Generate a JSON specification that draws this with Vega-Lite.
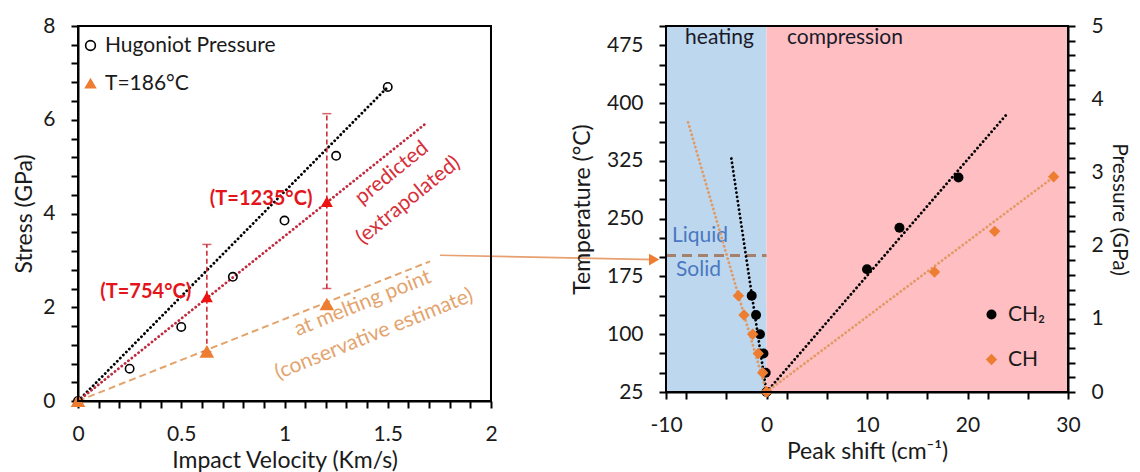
{
  "$schema": "https://vega.github.io/schema/vega-lite/v6.json",
  "padding": {"left": 12, "top": 14, "right": 0, "bottom": 0},
  "background": "white",
  "config": {
    "font": "Lato",
    "view": {"stroke": "black", "strokeWidth": 2},
    "axis": {
      "domainColor": "black", "domainWidth": 2, "tickColor": "black", "tickWidth": 2, "tickSize": 7, "ticks": true,
      "labelPadding": 15, "labelFontSize": 21, "labelColor": "#1a1a1a", "labelFont": "Lato",
      "titleFontSize": 23, "titleFontWeight": "normal", "titleColor": "#1a1a1a", "titleFont": "Lato",
      "grid": false, "labelFlush": false, "zindex": 2
    },
    "legend": {"labelFont": "Lato", "labelColor": "#1a1a1a", "labelLimit": 400}
  },
  "bounds": "flush",
  "spacing": 175,
  "resolve": {"scale": {"color": "independent", "shape": "independent", "fill": "independent", "stroke": "independent", "size": "independent"}},
  "hconcat": [
    {
      "width": 413,
      "height": 375,
      "resolve": {"axis": {"x": "independent", "y": "independent"}},
      "layer": [
        {
          "data": {"values": [{"x": 0, "y": 0, "x2": 1.5, "y2": 6.7}]},
          "mark": {"type": "rule", "color": "black", "strokeWidth": 2.8, "strokeDash": [0.1, 4.2], "strokeCap": "round"},
          "encoding": {
            "x": {"field": "x", "type": "quantitative", "scale": {"domain": [0, 2], "nice": false},
                  "axis": {"title": "Impact Velocity (Km/s)", "orient": "bottom", "values": [0, 0.5, 1, 1.5, 2], "format": "~g",
                           "ticks": true, "tickSize": 7, "tickWidth": 2, "tickColor": "black", "domainColor": "black", "domainWidth": 2,
                           "labelPadding": 15, "titlePadding": 5}},
            "y": {"field": "y", "type": "quantitative", "scale": {"domain": [0, 8], "nice": false},
                  "axis": {"title": "Stress (GPa)", "orient": "left", "values": [0, 2, 4, 6, 8], "format": "~g",
                           "ticks": true, "tickSize": 7, "tickWidth": 2, "tickColor": "black", "domainColor": "black", "domainWidth": 2,
                           "labelPadding": 16, "titlePadding": 6}},
            "x2": {"field": "x2"},
            "y2": {"field": "y2"}
          }
        },
        {
          "data": {"values": [{"x": 0, "y": 0, "x2": 1.69, "y2": 5.94}]},
          "mark": {"type": "rule", "color": "#c02a3c", "strokeWidth": 2.8, "strokeDash": [0.1, 4.2], "strokeCap": "round"},
          "encoding": {
            "x": {"field": "x", "type": "quantitative",
                  "axis": {"title": null, "orient": "bottom", "labels": false, "domain": false, "ticks": true, "tickSize": 7, "tickWidth": 2, "tickColor": "black",
                           "values": [0.1,0.2,0.3,0.4,0.6,0.7,0.8,0.9,1.1,1.2,1.3,1.4,1.6,1.7,1.8,1.9]}},
            "y": {"field": "y", "type": "quantitative",
                  "axis": {"title": null, "orient": "left", "labels": false, "domain": false, "ticks": true, "tickSize": 7, "tickWidth": 2, "tickColor": "black",
                           "values": [0.4,0.8,1.2,1.6,2.4,2.8,3.2,3.6,4.4,4.8,5.2,5.6,6.4,6.8,7.2,7.6]}},
            "x2": {"field": "x2"}, "y2": {"field": "y2"}
          }
        },
        {
          "data": {"values": [{"x": 0, "y": 0, "x2": 1.705, "y2": 2.98}]},
          "mark": {"type": "rule", "color": "#e3a46e", "strokeWidth": 2, "strokeDash": [7, 4]},
          "encoding": {
            "x": {"field": "x", "type": "quantitative", "axis": null}, "y": {"field": "y", "type": "quantitative", "axis": null},
            "x2": {"field": "x2"}, "y2": {"field": "y2"}
          }
        },
        {
          "data": {"values": [{"x": 1.753, "y": 3.11, "x2": 2.79, "y2": 3.017}]},
          "mark": {"type": "rule", "color": "#e8a070", "strokeWidth": 1.6},
          "encoding": {
            "x": {"field": "x", "type": "quantitative", "axis": null}, "y": {"field": "y", "type": "quantitative", "axis": null},
            "x2": {"field": "x2"}, "y2": {"field": "y2"}
          }
        },
        {
          "data": {"values": [{"x": 2.79, "y": 3.017}]},
          "mark": {"type": "point", "shape": "triangle-right", "filled": true, "color": "#ed7d31", "size": 140, "opacity": 1},
          "encoding": {
            "x": {"field": "x", "type": "quantitative", "axis": null}, "y": {"field": "y", "type": "quantitative", "axis": null}
          }
        },
        {
          "data": {"values": [{"x": 0.624, "lo": 1.05, "hi": 3.34}, {"x": 1.205, "lo": 2.40, "hi": 6.13}]},
          "layer": [
            {
              "mark": {"type": "rule", "color": "#c8202c", "strokeWidth": 1.5, "strokeDash": [5, 3]},
              "encoding": {"x": {"field": "x", "type": "quantitative", "axis": null}, "y": {"field": "lo", "type": "quantitative", "axis": null}, "y2": {"field": "hi"}}
            },
            {
              "mark": {"type": "tick", "orient": "horizontal", "color": "#c8202c", "size": 9, "thickness": 1.5},
              "encoding": {"x": {"field": "x", "type": "quantitative", "axis": null}, "y": {"field": "hi", "type": "quantitative", "axis": null}}
            },
            {
              "mark": {"type": "tick", "orient": "horizontal", "color": "#c8202c", "size": 9, "thickness": 1.5},
              "encoding": {"x": {"field": "x", "type": "quantitative", "axis": null}, "y": {"field": "lo", "type": "quantitative", "axis": null}}
            }
          ]
        },
        {
          "data": {"values": [
            {"v": 0, "s": 0, "series": "Hugoniot Pressure"},
            {"v": 0.25, "s": 0.69, "series": "Hugoniot Pressure"},
            {"v": 0.5, "s": 1.58, "series": "Hugoniot Pressure"},
            {"v": 0.75, "s": 2.65, "series": "Hugoniot Pressure"},
            {"v": 1.0, "s": 3.85, "series": "Hugoniot Pressure"},
            {"v": 1.25, "s": 5.23, "series": "Hugoniot Pressure"},
            {"v": 1.5, "s": 6.70, "series": "Hugoniot Pressure"}
          ]},
          "mark": {"type": "point", "filled": true, "strokeWidth": 1.6, "opacity": 1, "size": 70},
          "encoding": {
            "x": {"field": "v", "type": "quantitative", "axis": null},
            "y": {"field": "s", "type": "quantitative", "axis": null},
            "shape": {"field": "series", "type": "nominal", "scale": {"domain": ["Hugoniot Pressure", "T=186°C"], "range": ["circle", "triangle-up"]}, "legend": {"title": null, "orient": "top-left", "offset": 0, "padding": 9, "labelFontSize": 21, "symbolSize": 95, "rowPadding": 16, "labelOffset": 4, "symbolOffset": -7, "symbolStrokeWidth": 1.6, "labelLimit": 400}},
            "fill": {"field": "series", "type": "nominal", "scale": {"domain": ["Hugoniot Pressure", "T=186°C"], "range": ["transparent", "#ed7d31"]}, "legend": {"title": null, "orient": "top-left", "offset": 0, "padding": 9, "labelFontSize": 21, "symbolSize": 95, "rowPadding": 16, "labelOffset": 4, "symbolOffset": -7, "symbolStrokeWidth": 1.6, "labelLimit": 400}},
            "stroke": {"field": "series", "type": "nominal", "scale": {"domain": ["Hugoniot Pressure", "T=186°C"], "range": ["black", "#ed7d31"]}, "legend": {"title": null, "orient": "top-left", "offset": 0, "padding": 9, "labelFontSize": 21, "symbolSize": 95, "rowPadding": 16, "labelOffset": 4, "symbolOffset": -7, "symbolStrokeWidth": 1.6, "labelLimit": 400}}
          }
        },
        {
          "data": {"values": [
            {"v": 0, "s": 0, "series": "T=186°C"},
            {"v": 0.624, "s": 1.05, "series": "T=186°C"},
            {"v": 1.205, "s": 2.06, "series": "T=186°C"}
          ]},
          "mark": {"type": "point", "filled": true, "strokeWidth": 1.6, "opacity": 1, "size": 140},
          "encoding": {
            "x": {"field": "v", "type": "quantitative", "axis": null},
            "y": {"field": "s", "type": "quantitative", "axis": null},
            "shape": {"field": "series", "type": "nominal"},
            "fill": {"field": "series", "type": "nominal"},
            "stroke": {"field": "series", "type": "nominal"}
          }
        },
        {
          "data": {"values": [{"v": 0.624, "s": 2.22}, {"v": 1.205, "s": 4.25}]},
          "mark": {"type": "point", "shape": "triangle-up", "filled": true, "color": "#ee1111", "size": 145, "opacity": 1},
          "encoding": {"x": {"field": "v", "type": "quantitative", "axis": null}, "y": {"field": "s", "type": "quantitative", "axis": null}}
        },
        {
          "data": {"values": [{"v": 0.548, "s": 2.33, "label": "(T=754°C)"}, {"v": 1.135, "s": 4.32, "label": "(T=1235°C)"}]},
          "mark": {"type": "text", "align": "right", "baseline": "middle", "fontSize": 20, "fontWeight": "bold", "color": "#e3151c"},
          "encoding": {"x": {"field": "v", "type": "quantitative", "axis": null}, "y": {"field": "s", "type": "quantitative", "axis": null}, "text": {"field": "label"}}
        },
        {
          "data": {"values": [{"v": 1.52, "s": 4.86, "label": "predicted"}, {"v": 1.6, "s": 4.28, "label": "(extrapolated)"}]},
          "mark": {"type": "text", "align": "center", "baseline": "middle", "fontSize": 21, "angle": 321, "color": "#d6303a"},
          "encoding": {"x": {"field": "v", "type": "quantitative", "axis": null}, "y": {"field": "s", "type": "quantitative", "axis": null}, "text": {"field": "label"}}
        },
        {
          "data": {"values": [{"v": 1.379, "s": 2.08, "label": "at melting point"}, {"v": 1.434, "s": 1.42, "label": "(conservative estimate)"}]},
          "mark": {"type": "text", "align": "center", "baseline": "middle", "fontSize": 21, "angle": 338, "color": "#e3a46e"},
          "encoding": {"x": {"field": "v", "type": "quantitative", "axis": null}, "y": {"field": "s", "type": "quantitative", "axis": null}, "text": {"field": "label"}}
        },
        {
          "data": {"values": [{"a": 0, "b": 2}]},
          "mark": {"type": "rect", "filled": false, "color": "black", "strokeWidth": 2},
          "encoding": {"x": {"field": "a", "type": "quantitative", "axis": null}, "x2": {"field": "b"}}
        }
      ]
    },
    {
      "width": 402,
      "height": 366,
      "resolve": {"scale": {"y": "independent"}, "axis": {"x": "independent", "y": "independent"}},
      "layer": [
        {
          "resolve": {"axis": {"y": "independent"}},
          "layer": [
            {
              "data": {"values": [{"a": -10, "b": 0}]},
              "mark": {"type": "rect", "color": "#bdd7ee", "opacity": 1},
              "encoding": {"x": {"field": "a", "type": "quantitative", "scale": {"domain": [-10, 30], "nice": false},
                                 "axis": {"title": "Peak shift (cm⁻¹)", "orient": "bottom", "values": [-10, 0, 10, 20, 30],
                                          "labelExpr": "'' + datum.value",
                                          "ticks": true, "tickSize": 7, "tickWidth": 2, "tickColor": "black", "domainColor": "black", "domainWidth": 2,
                                          "labelPadding": 15, "titlePadding": 5}},
                           "x2": {"field": "b"}}
            },
            {
              "data": {"values": [{"a": 0, "b": 30}]},
              "mark": {"type": "rect", "color": "#ffbfc2", "opacity": 1},
              "encoding": {"x": {"field": "a", "type": "quantitative"}, "x2": {"field": "b"}}
            },
            {
              "data": {"values": [{"x": -4.68, "t": 484, "label": "heating"}, {"x": 7.8, "t": 484, "label": "compression"}]},
              "mark": {"type": "text", "align": "center", "baseline": "middle", "fontSize": 21, "color": "#1a1a2a"},
              "encoding": {"x": {"field": "x", "type": "quantitative"},
                           "y": {"field": "t", "type": "quantitative", "scale": {"domain": [25, 500], "nice": false, "zero": false},
                                 "axis": {"title": "Temperature (°C)", "orient": "left", "values": [25, 100, 175, 250, 325, 400, 475],
                                          "ticks": true, "tickSize": 7, "tickWidth": 2, "tickColor": "black", "domainColor": "black", "domainWidth": 2,
                                          "labelPadding": 16, "titlePadding": 12}},
                           "text": {"field": "label"}}
            },
            {
              "data": {"values": [{"x": -10, "x2": 0, "t": 202}]},
              "mark": {"type": "rule", "color": "#a5806c", "strokeWidth": 3, "strokeDash": [10, 6]},
              "encoding": {"x": {"field": "x", "type": "quantitative"}, "x2": {"field": "x2"},
                           "y": {"field": "t", "type": "quantitative",
                                 "axis": {"title": null, "orient": "left", "labels": false, "domain": false, "ticks": true, "tickSize": 7, "tickWidth": 2, "tickColor": "black",
                                          "values": [50, 75, 125, 150, 200, 225, 275, 300, 350, 375, 425, 450, 500]}}}
            },
            {
              "data": {"values": [{"x": -6.62, "t": 227, "label": "Liquid"}, {"x": -6.77, "t": 183, "label": "Solid"}]},
              "mark": {"type": "text", "align": "center", "baseline": "middle", "fontSize": 21, "color": "#4a78c2"},
              "encoding": {"x": {"field": "x", "type": "quantitative"}, "y": {"field": "t", "type": "quantitative", "axis": null}, "text": {"field": "label"}}
            },
            {
              "data": {"values": [{"x": -3.5, "t": 328, "x2": 0, "t2": 25}]},
              "mark": {"type": "rule", "color": "black", "strokeWidth": 2.8, "strokeDash": [0.1, 4.2], "strokeCap": "round"},
              "encoding": {"x": {"field": "x", "type": "quantitative"}, "x2": {"field": "x2"}, "y": {"field": "t", "type": "quantitative", "axis": null}, "y2": {"field": "t2"}}
            },
            {
              "data": {"values": [{"x": -7.8, "t": 375, "x2": 0, "t2": 25}]},
              "mark": {"type": "rule", "color": "#e09a66", "strokeWidth": 2.8, "strokeDash": [0.1, 4.2], "strokeCap": "round"},
              "encoding": {"x": {"field": "x", "type": "quantitative"}, "x2": {"field": "x2"}, "y": {"field": "t", "type": "quantitative", "axis": null}, "y2": {"field": "t2"}}
            },
            {
              "data": {"values": [
                {"x": -1.47, "t": 150, "material": "CH₂"},
                {"x": -1.04, "t": 125, "material": "CH₂"},
                {"x": -0.65, "t": 100, "material": "CH₂"},
                {"x": -0.3, "t": 75, "material": "CH₂"},
                {"x": -0.08, "t": 50, "material": "CH₂"},
                {"x": 0, "t": 25, "material": "CH₂"},
                {"x": -2.8, "t": 150, "material": "CH"},
                {"x": -2.24, "t": 125, "material": "CH"},
                {"x": -1.37, "t": 100, "material": "CH"},
                {"x": -0.82, "t": 75, "material": "CH"},
                {"x": -0.38, "t": 50, "material": "CH"},
                {"x": 0, "t": 25, "material": "CH"}
              ]},
              "mark": {"type": "point", "filled": true, "opacity": 1},
              "encoding": {
                "x": {"field": "x", "type": "quantitative"},
                "y": {"field": "t", "type": "quantitative", "axis": null},
                "color": {"field": "material", "type": "nominal", "scale": {"domain": ["CH₂", "CH"], "range": ["black", "#ed7d31"]},
                          "legend": {"title": null, "orient": "bottom-right", "offset": 0, "padding": 22, "labelFontSize": 21, "symbolSize": 110, "rowPadding": 23, "labelOffset": 6}},
                "shape": {"field": "material", "type": "nominal", "scale": {"domain": ["CH₂", "CH"], "range": ["circle", "diamond"]},
                          "legend": {"title": null, "orient": "bottom-right", "offset": 0, "padding": 22, "labelFontSize": 21, "symbolSize": 110, "rowPadding": 23, "labelOffset": 6}},
                "size": {"field": "material", "type": "nominal", "scale": {"domain": ["CH₂", "CH"], "range": [100, 130]}, "legend": null}
              }
            }
          ]
        },
        {
          "resolve": {"axis": {"y": "independent"}},
          "layer": [
            {
              "data": {"values": [{"x": 0, "p": 0, "x2": 24.0, "p2": 3.81}]},
              "mark": {"type": "rule", "color": "black", "strokeWidth": 2.8, "strokeDash": [0.1, 4.2], "strokeCap": "round"},
              "encoding": {"x": {"field": "x", "type": "quantitative",
                                 "axis": {"title": null, "orient": "bottom", "labels": false, "domain": false, "ticks": true, "tickSize": 7, "tickWidth": 2, "tickColor": "black",
                                          "values": [-8, -6, -4, -2, 2, 4, 6, 8, 12, 14, 16, 18, 22, 24, 26, 28]}},
                           "x2": {"field": "x2"},
                           "y": {"field": "p", "type": "quantitative", "scale": {"domain": [0, 5], "nice": false},
                                 "axis": {"title": "Pressure (GPa)", "orient": "right", "values": [0, 1, 2, 3, 4, 5], "format": "~g",
                                          "ticks": true, "tickSize": 7, "tickWidth": 2, "tickColor": "black", "domainColor": "black", "domainWidth": 2,
                                          "labelPadding": 16, "titlePadding": 5, "titleFontSize": 21}},
                           "y2": {"field": "p2"}}
            },
            {
              "data": {"values": [{"x": 0, "p": 0, "x2": 28.6, "p2": 2.94}]},
              "mark": {"type": "rule", "color": "#e09a66", "strokeWidth": 2.8, "strokeDash": [0.1, 4.2], "strokeCap": "round"},
              "encoding": {"x": {"field": "x", "type": "quantitative"}, "x2": {"field": "x2"},
                           "y": {"field": "p", "type": "quantitative",
                                 "axis": {"title": null, "orient": "right", "labels": false, "domain": false, "ticks": true, "tickSize": 7, "tickWidth": 2, "tickColor": "black",
                                          "values": [0.2,0.4,0.6,0.8,1.2,1.4,1.6,1.8,2.2,2.4,2.6,2.8,3.2,3.4,3.6,3.8,4.2,4.4,4.6,4.8]}},
                           "y2": {"field": "p2"}}
            },
            {
              "data": {"values": [
                {"x": 10.0, "p": 1.676, "material": "CH₂"},
                {"x": 13.23, "p": 2.245, "material": "CH₂"},
                {"x": 19.1, "p": 2.93, "material": "CH₂"},
                {"x": 0, "p": 0, "material": "CH"},
                {"x": 16.72, "p": 1.64, "material": "CH"},
                {"x": 22.7, "p": 2.195, "material": "CH"},
                {"x": 28.57, "p": 2.94, "material": "CH"}
              ]},
              "mark": {"type": "point", "filled": true, "opacity": 1},
              "encoding": {
                "x": {"field": "x", "type": "quantitative"},
                "y": {"field": "p", "type": "quantitative", "axis": null},
                "color": {"field": "material", "type": "nominal"},
                "shape": {"field": "material", "type": "nominal"},
                "size": {"field": "material", "type": "nominal"}
              }
            },
            {
              "data": {"values": [{"a": -10, "b": 30}]},
              "mark": {"type": "rect", "filled": false, "color": "black", "strokeWidth": 2},
              "encoding": {"x": {"field": "a", "type": "quantitative"}, "x2": {"field": "b"}}
            }
          ]
        }
      ]
    }
  ]
}
